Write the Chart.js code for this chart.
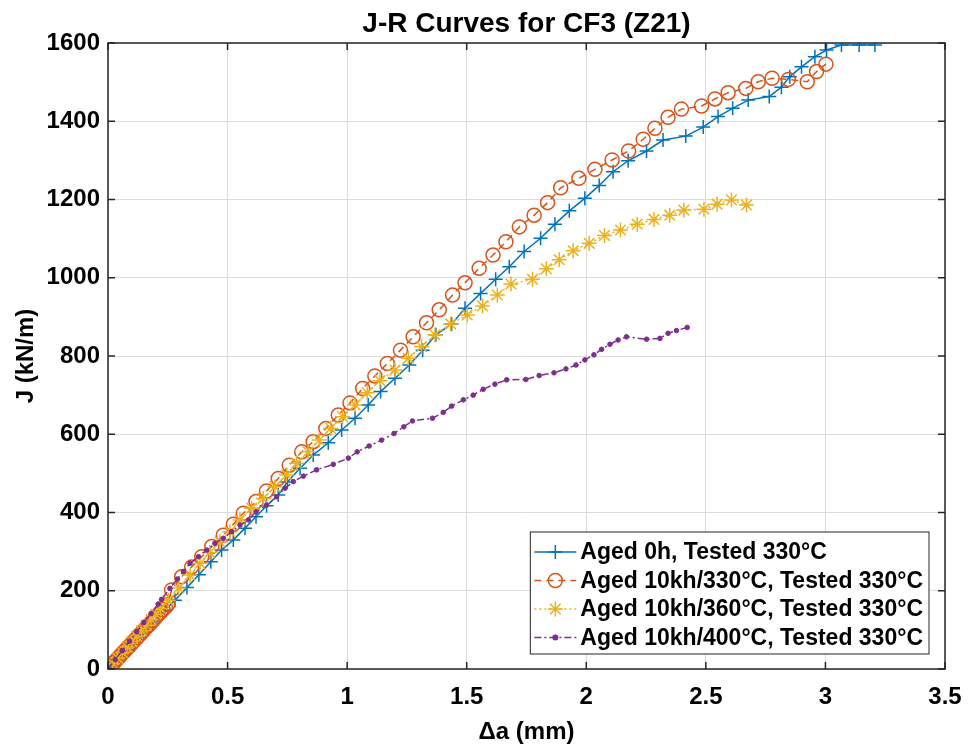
<!DOCTYPE html>
<html>
<head>
<meta charset="utf-8">
<title>J-R Curves for CF3 (Z21)</title>
<script src="https://cdn.jsdelivr.net/npm/chart.js@4.4.0/dist/chart.umd.min.js"></script>
<style>
  body { margin: 0; background: #fff; }
</style>
</head>
<body>
<canvas id="jrChart" width="968" height="747"></canvas>
<script>
// crack extension (mm) and J (kN/m)
var aged0hDa = [0, 0.01, 0.03, 0.05, 0.08, 0.11, 0.14, 0.17, 0.20, 0.24, 0.28, 0.33, 0.38, 0.43, 0.475, 0.524, 0.573, 0.619, 0.663, 0.712, 0.75, 0.803, 0.858, 0.921, 0.977, 1.033, 1.088, 1.140, 1.200, 1.260, 1.316, 1.371, 1.437, 1.493, 1.558, 1.621, 1.678, 1.740, 1.809, 1.869, 1.929, 1.994, 2.054, 2.112, 2.175, 2.252, 2.321, 2.416, 2.489, 2.551, 2.612, 2.677, 2.765, 2.816, 2.851, 2.900, 2.956, 3.005, 3.067, 3.141, 3.207];
var aged0hJ = [0, 6, 19, 31, 50, 69, 88, 107, 126, 151, 176, 208, 241, 274, 304, 330, 360, 389, 417, 445, 478, 513, 547, 578, 611, 641, 675, 709, 743, 777, 815, 854, 882, 922, 960, 996, 1028, 1067, 1101, 1137, 1171, 1203, 1236, 1271, 1299, 1324, 1352, 1362, 1385, 1412, 1433, 1454, 1463, 1487, 1514, 1539, 1565, 1582, 1595, 1595, 1595];

var aged330Da = [0, 0.01, 0.02, 0.03, 0.04, 0.05, 0.06, 0.07, 0.08, 0.09, 0.10, 0.11, 0.12, 0.13, 0.14, 0.15, 0.16, 0.17, 0.18, 0.19, 0.20, 0.21, 0.22, 0.23, 0.24, 0.25, 0.266, 0.308, 0.35, 0.392, 0.434, 0.482, 0.524, 0.566, 0.619, 0.663, 0.712, 0.758, 0.810, 0.858, 0.911, 0.963, 1.012, 1.065, 1.116, 1.168, 1.223, 1.276, 1.332, 1.385, 1.441, 1.493, 1.552, 1.610, 1.664, 1.720, 1.782, 1.838, 1.893, 1.969, 2.036, 2.108, 2.177, 2.238, 2.287, 2.342, 2.398, 2.482, 2.538, 2.593, 2.667, 2.719, 2.777, 2.845, 2.924, 2.963, 3.002];
var aged330J = [0, 7, 13, 20, 26, 33, 40, 46, 53, 59, 66, 73, 79, 86, 92, 99, 106, 112, 119, 125, 132, 139, 145, 152, 158, 165, 202, 236, 261, 287, 313, 342, 370, 398, 428, 455, 487, 521, 555, 581, 615, 649, 680, 717, 749, 781, 815, 849, 885, 918, 956, 987, 1024, 1058, 1092, 1130, 1160, 1192, 1230, 1254, 1277, 1301, 1324, 1354, 1382, 1410, 1431, 1439, 1457, 1473, 1484, 1501, 1510, 1507, 1501, 1527, 1546];

var aged360Da = [0, 0.02, 0.04, 0.06, 0.08, 0.10, 0.12, 0.14, 0.16, 0.18, 0.20, 0.22, 0.252, 0.296, 0.343, 0.385, 0.426, 0.468, 0.510, 0.552, 0.601, 0.649, 0.698, 0.747, 0.789, 0.837, 0.883, 0.931, 0.981, 1.033, 1.084, 1.137, 1.200, 1.256, 1.311, 1.367, 1.433, 1.502, 1.566, 1.628, 1.685, 1.775, 1.833, 1.887, 1.945, 2.012, 2.076, 2.143, 2.213, 2.283, 2.349, 2.408, 2.492, 2.547, 2.607, 2.670];
var aged360J = [0, 14, 28, 42, 56, 70, 84, 98, 112, 126, 140, 154, 176, 207, 240, 270, 298, 325, 351, 381, 411, 436, 466, 496, 526, 555, 585, 615, 645, 675, 706, 737, 764, 794, 824, 854, 882, 905, 928, 956, 984, 996, 1023, 1046, 1069, 1088, 1108, 1122, 1137, 1149, 1160, 1173, 1175, 1188, 1199, 1186];

var aged400Da = [0, 0.03, 0.06, 0.09, 0.12, 0.15, 0.18, 0.21, 0.224, 0.259, 0.29, 0.315, 0.343, 0.378, 0.413, 0.447, 0.482, 0.517, 0.552, 0.587, 0.619, 0.663, 0.705, 0.740, 0.775, 0.817, 0.872, 0.942, 1.005, 1.042, 1.092, 1.144, 1.196, 1.237, 1.273, 1.357, 1.402, 1.437, 1.486, 1.527, 1.569, 1.618, 1.667, 1.747, 1.803, 1.865, 1.915, 1.957, 1.994, 2.032, 2.064, 2.099, 2.133, 2.168, 2.252, 2.308, 2.342, 2.377, 2.422];
var aged400J = [0, 24, 47, 71, 95, 119, 142, 166, 178, 206, 230, 249, 270, 287, 304, 321, 334, 351, 368, 381, 402, 419, 440, 462, 479, 493, 509, 523, 539, 555, 570, 585, 602, 619, 634, 641, 656, 672, 688, 700, 715, 728, 739, 740, 750, 757, 767, 777, 790, 803, 817, 830, 841, 849, 843, 845, 858, 865, 873];

var seriesLabels = ['Aged 0h, Tested 330°C', 'Aged 10kh/330°C, Tested 330°C', 'Aged 10kh/360°C, Tested 330°C', 'Aged 10kh/400°C, Tested 330°C'];

function pts(xs, ys) {
  return xs.map(function (x, i) { return { x: x, y: ys[i] }; });
}

var FONT = "'Liberation Sans', Arial, Helvetica, sans-serif";
var AXIS = '#262626';

// marker drawn in the legend, same shapes as chart.js point styles
function drawMarker(ctx, style, x, y, r) {
  ctx.beginPath();
  if (style === 'cross' || style === 'star') {
    ctx.moveTo(x - r, y); ctx.lineTo(x + r, y);
    ctx.moveTo(x, y - r); ctx.lineTo(x, y + r);
    if (style === 'star') {
      var d = r * Math.SQRT1_2;
      ctx.moveTo(x - d, y - d); ctx.lineTo(x + d, y + d);
      ctx.moveTo(x - d, y + d); ctx.lineTo(x + d, y - d);
    }
    ctx.stroke();
  } else {
    ctx.arc(x, y, r, 0, Math.PI * 2);
    ctx.fill();
    ctx.stroke();
  }
}

var boxPlugin = {
  id: 'matlabBox',
  afterDraw: function (chart) {
    var ctx = chart.ctx, a = chart.chartArea;
    var xs = chart.scales.x, ys = chart.scales.y;
    ctx.save();
    ctx.strokeStyle = AXIS;
    ctx.lineWidth = 1.5;
    ctx.strokeRect(a.left, a.top, a.right - a.left, a.bottom - a.top);
    // inward ticks on all four sides
    var len = 7;
    ctx.beginPath();
    xs.ticks.forEach(function (t) {
      var px = xs.getPixelForValue(t.value);
      ctx.moveTo(px, a.bottom); ctx.lineTo(px, a.bottom - len);
      ctx.moveTo(px, a.top); ctx.lineTo(px, a.top + len);
    });
    ys.ticks.forEach(function (t) {
      var py = ys.getPixelForValue(t.value);
      ctx.moveTo(a.left, py); ctx.lineTo(a.left + len, py);
      ctx.moveTo(a.right, py); ctx.lineTo(a.right - len, py);
    });
    ctx.stroke();

    // legend, bottom right inside the axes
    ctx.font = 'bold 23px ' + FONT;
    var sets = chart.data.datasets;
    var maxW = 0;
    sets.forEach(function (ds) { maxW = Math.max(maxW, ctx.measureText(ds.label).width); });
    var rowH = 28.5;
    var w = 50 + maxW + 6, h = rowH * sets.length + 8;
    var right = a.right - 16, bottom = a.bottom - 15;
    var left = right - w, top = bottom - h;
    ctx.fillStyle = '#fff';
    ctx.fillRect(left, top, w, h);
    ctx.lineWidth = 1;
    ctx.strokeStyle = AXIS;
    ctx.strokeRect(left, top, w, h);
    sets.forEach(function (ds, i) {
      var cy = top + 20 + i * rowH;
      ctx.strokeStyle = ds.borderColor;
      ctx.lineWidth = ds.borderWidth;
      ctx.setLineDash(ds.borderDash || []);
      ctx.beginPath();
      ctx.moveTo(left + 4, cy); ctx.lineTo(left + 46, cy);
      ctx.stroke();
      ctx.setLineDash([]);
      ctx.fillStyle = ds.pointBackgroundColor;
      drawMarker(ctx, ds.pointStyle, left + 25, cy, ds.pointRadius);
      ctx.fillStyle = '#000';
      ctx.textBaseline = 'middle';
      ctx.textAlign = 'left';
      ctx.fillText(ds.label, left + 50, cy + 1);
    });
    ctx.restore();
  }
};

var ctx = document.getElementById('jrChart').getContext('2d');
var chart = new Chart(ctx, {
  type: 'scatter',
  data: {
    datasets: [{
      label: seriesLabels[0],
      data: pts(aged0hDa, aged0hJ),
      showLine: true,
      borderColor: '#0072BD',
      borderWidth: 1.5,
      pointStyle: 'cross',
      pointRadius: 7,
      pointBorderWidth: 1.5,
      pointBackgroundColor: 'rgba(0,0,0,0)',
      order: 4
    }, {
      label: seriesLabels[1],
      data: pts(aged330Da, aged330J),
      showLine: true,
      borderColor: '#D95319',
      borderWidth: 1.5,
      borderDash: [7, 5],
      pointStyle: 'circle',
      pointRadius: 7,
      pointBorderWidth: 1.5,
      pointBackgroundColor: 'rgba(0,0,0,0)',
      order: 3
    }, {
      label: seriesLabels[2],
      data: pts(aged360Da, aged360J),
      showLine: true,
      borderColor: '#EDB120',
      borderWidth: 1.5,
      borderDash: [2, 3],
      pointStyle: 'star',
      pointRadius: 7.5,
      pointBorderWidth: 1.5,
      pointBackgroundColor: 'rgba(0,0,0,0)',
      order: 2
    }, {
      label: seriesLabels[3],
      data: pts(aged400Da, aged400J),
      showLine: true,
      borderColor: '#7E2F8E',
      borderWidth: 1.5,
      borderDash: [7, 3, 2, 3],
      pointStyle: 'circle',
      pointRadius: 2.3,
      pointBorderWidth: 1,
      pointBackgroundColor: '#7E2F8E',
      order: 1
    }]
  },
  options: {
    responsive: false,
    animation: false,
    layout: { padding: { left: 0, right: 23, top: 0, bottom: 0 } },
    plugins: {
      legend: { display: false },
      tooltip: { enabled: false },
      title: {
        display: true,
        text: 'J-R Curves for CF3 (Z21)',
        fullSize: false,
        color: '#000',
        font: { family: FONT, size: 28, weight: 'bold' },
        padding: { top: 7, bottom: 2.4 }
      }
    },
    scales: {
      x: {
        type: 'linear',
        min: 0, max: 3.5,
        ticks: {
          stepSize: 0.5, color: '#000', padding: 14,
          font: { family: FONT, size: 24, weight: 'bold' },
          callback: function (v) { return String(v); }
        },
        grid: { color: '#dcdcdc', lineWidth: 1, drawTicks: false },
        border: { display: false },
        title: { display: true, text: 'Δa (mm)', color: '#000', padding: { top: 0, bottom: 0 }, font: { family: FONT, size: 24, weight: 'bold' } },
        afterFit: function (s) { s.height = 78; s.paddingLeft = 0; s.paddingRight = 0; }
      },
      y: {
        min: 0, max: 1600,
        ticks: {
          stepSize: 200, color: '#000', padding: 8,
          font: { family: FONT, size: 24, weight: 'bold' },
          callback: function (v) { return String(v); }
        },
        grid: { color: '#dcdcdc', lineWidth: 1, drawTicks: false },
        border: { display: false },
        title: { display: true, text: 'J (kN/m)', color: '#000', padding: { top: 12, bottom: 0 }, font: { family: FONT, size: 24, weight: 'bold' } },
        afterFit: function (s) { s.width = 108; s.paddingTop = 0; s.paddingBottom = 0; }
      }
    }
  },
  plugins: [boxPlugin]
});
</script>
</body>
</html>
